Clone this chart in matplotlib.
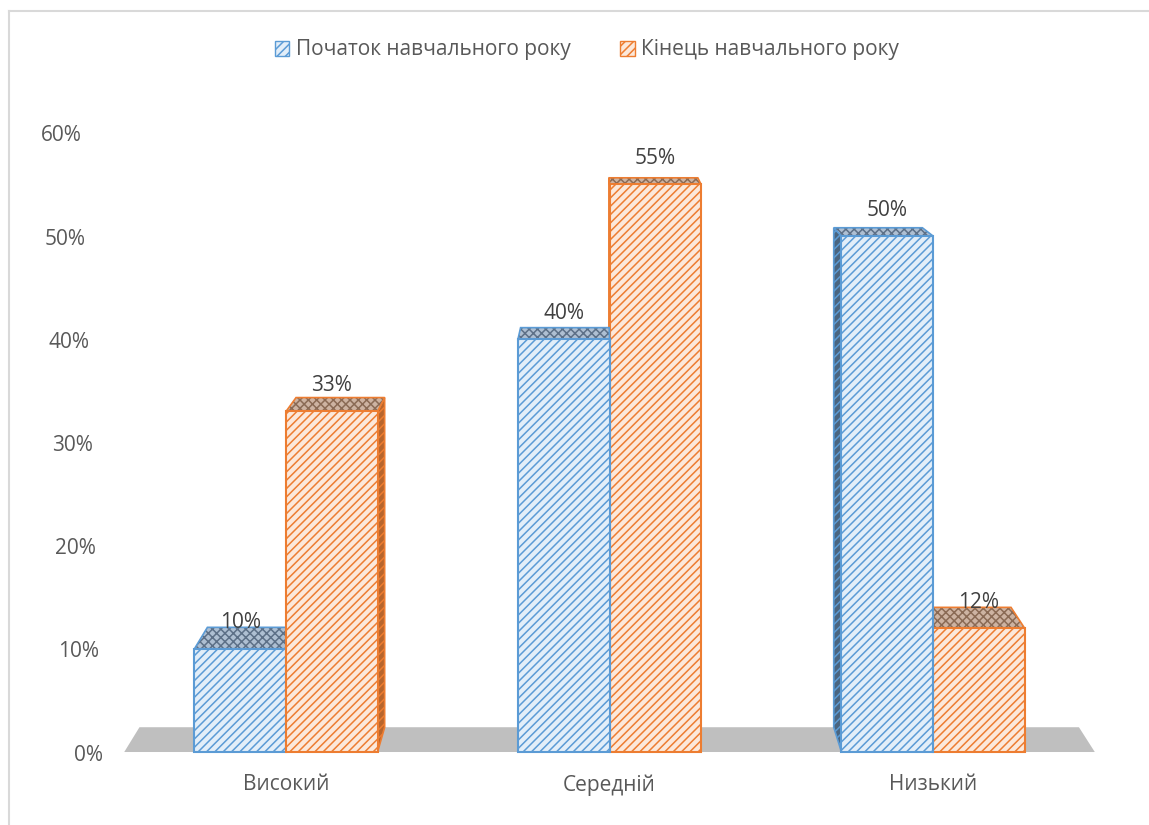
import numpy as np
import matplotlib.pyplot as plt
from matplotlib.patches import Polygon, Patch
from matplotlib.lines import Line2D

plt.rcParams['font.family'] = ['Open Sans', 'DejaVu Sans']
plt.rcParams['hatch.linewidth'] = 1.1

# ---------------------------------------------------------------------------
# data
# ---------------------------------------------------------------------------
categories = ['Високий', 'Середній', 'Низький']
series_names = ['Початок навчального року', 'Кінець навчального року']
start_values = [10, 40, 50]
end_values = [33, 55, 12]
y_ticks = [0, 10, 20, 30, 40, 50, 60]

# ---------------------------------------------------------------------------
# style
# ---------------------------------------------------------------------------
BLUE_EDGE = '#5b9bd5'
BLUE_FILL = '#e2eef9'
BLUE_TOP = '#aebfd2'
BLUE_DOTS = '#5d7087'
BLUE_SIDE = '#4a6580'
ORANGE_EDGE = '#ed7d31'
ORANGE_FILL = '#fce8da'
ORANGE_TOP = '#cdb3a2'
ORANGE_DOTS = '#8a6a55'
ORANGE_SIDE = '#b8652c'
TEXT = '#595959'
FLOOR = '#bfbfbf'
FS = 15

# fake 3D: back face pulled toward a vanishing point
VP_X = 0.97
KX = 0.032
KY = 0.032
DEPTH_FAR = 75
BAR_W = 0.283


def depth(x, v):
    return KX * (VP_X - x), KY * (DEPTH_FAR - v)


fig = plt.figure(figsize=(11.49, 8.25), dpi=100)
ax = fig.add_axes([110 / 1149, 55 / 825, 1000 / 1149, 670 / 825])
ax.set_xlim(-0.544, 2.547)
ax.set_ylim(-1.744, 63.18)
for s in ax.spines.values():
    s.set_visible(False)
ax.set_yticks([])
ax.set_xticks(range(len(categories)), categories)
ax.tick_params(axis='x', length=0, pad=3, labelsize=FS, labelcolor=TEXT)

# floor
n = len(categories)
x0, x1 = -0.5, n - 0.5
dx0, dy0 = depth(x0, 0)
dx1, _ = depth(x1, 0)
ax.add_patch(Polygon([(x0, 0), (x1, 0), (x1 + dx1, dy0), (x0 + dx0, dy0)],
                     closed=True, facecolor=FLOOR, edgecolor='none', zorder=1))

# y labels run along the slanted back wall
for v in y_ticks:
    ax.text(-0.566 - 0.00107 * v, v - 0.3, f'{v}%', ha='right', va='center',
            color=TEXT, fontsize=FS)

x = np.arange(n)
bars_start = ax.bar(x - BAR_W / 2, start_values, BAR_W, color=BLUE_FILL,
                    edgecolor=BLUE_EDGE, hatch='////', linewidth=1.5)
bars_end = ax.bar(x + BAR_W / 2, end_values, BAR_W, color=ORANGE_FILL,
                  edgecolor=ORANGE_EDGE, hatch='////', linewidth=1.5)

items = []
for rect, v in zip(bars_start, start_values):
    items.append((rect, v, BLUE_EDGE, BLUE_TOP, BLUE_DOTS, BLUE_SIDE))
for rect, v in zip(bars_end, end_values):
    items.append((rect, v, ORANGE_EDGE, ORANGE_TOP, ORANGE_DOTS, ORANGE_SIDE))

# painter's order: far from the vanishing point first
items.sort(key=lambda it: -abs(it[0].get_x() + BAR_W / 2 - VP_X))
for rank, (rect, v, edge, top, dots, side) in enumerate(items):
    z = 3 + rank * 3
    xl = rect.get_x()
    xr = xl + BAR_W
    dxl, dy = depth(xl, v)
    dxr, _ = depth(xr, v)
    top_pts = [(xl, v), (xr, v), (xr + dxr, v + dy), (xl + dxl, v + dy)]
    ax.add_patch(Polygon(top_pts, closed=True, facecolor=top, edgecolor='none',
                         zorder=z + 1))
    ax.add_patch(Polygon(top_pts, closed=True, fill=False, edgecolor=dots,
                         hatch='xxxx', linewidth=0, zorder=z + 1.1))
    ax.add_patch(Polygon(top_pts, closed=True, fill=False, edgecolor=edge,
                         linewidth=1.2, zorder=z + 1.2))
    xe = None
    if VP_X > xr:
        xe = xr
    elif VP_X < xl:
        xe = xl
    if xe is not None:
        dx, dyb = depth(xe, 0)
        _, dyt = depth(xe, v)
        ax.add_patch(Polygon([(xe, 0), (xe, v), (xe + dx, v + dyt), (xe + dx, dyb)],
                             closed=True, facecolor=side, edgecolor=edge,
                             hatch='////', linewidth=1.2, zorder=z))
    rect.set_zorder(z + 2)
    ax.text(xl + BAR_W / 2, v + 1.5, f'{v}%', ha='center', va='bottom',
            color='#404040', fontsize=FS, zorder=40)

fig.legend(handles=[Patch(facecolor=BLUE_FILL, edgecolor=BLUE_EDGE, hatch='////'),
                    Patch(facecolor=ORANGE_FILL, edgecolor=ORANGE_EDGE, hatch='////')],
           labels=series_names, loc='center', bbox_to_anchor=(587 / 1149, 1 - 50 / 825),
           ncol=2, frameon=False, handlelength=0.7, handleheight=0.7,
           handletextpad=0.3, columnspacing=2.4, fontsize=FS, labelcolor=TEXT)

# chart frame: only its left and top edges fall inside the image
frame_x = 8.5 / 1149
frame_y = 1 - 10.5 / 825
fig.add_artist(Line2D([frame_x, 1.0], [frame_y, frame_y], color='#d9d9d9', lw=1.5))
fig.add_artist(Line2D([frame_x, frame_x], [0.0, frame_y], color='#d9d9d9', lw=1.5))

fig.savefig('out.png', dpi=100)
